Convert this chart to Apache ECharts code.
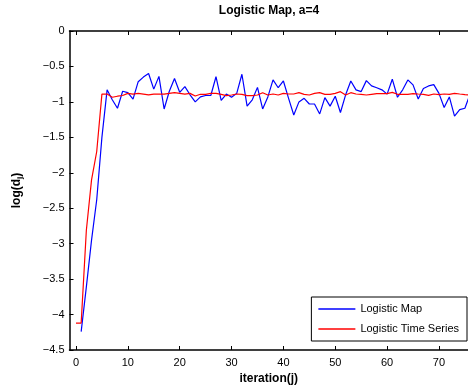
<!DOCTYPE html>
<html>
<head>
<meta charset="utf-8">
<script src="https://cdn.jsdelivr.net/npm/echarts@6/dist/echarts.min.js"></script>
<style>
html,body{margin:0;padding:0;background:#fff;}
#chart{width:468px;height:387px;}
</style>
</head>
<body>
<div id="chart"></div>
<script>
// iteration index j
var iterations = [0,1,2,3,4,5,6,7,8,9,10,11,12,13,14,15,16,17,18,19,20,21,22,23,24,25,26,27,28,29,30,31,32,33,34,35,36,37,38,39,40,41,42,43,44,45,46,47,48,49,50,51,52,53,54,55,56,57,58,59,60,61,62,63,64,65,66,67,68,69,70,71,72,73,74,75,76];
// Logistic Map (blue); no value at j=0
var logisticMap = [null,-4.24,-3.61,-2.95,-2.38,-1.5,-0.83,-0.97,-1.09,-0.85,-0.87,-0.96,-0.715,-0.65,-0.6,-0.82,-0.64,-1.1,-0.85,-0.67,-0.865,-0.785,-0.9,-1.0,-0.93,-0.91,-0.91,-0.645,-0.98,-0.89,-0.935,-0.88,-0.61,-1.06,-0.97,-0.795,-1.1,-0.93,-0.69,-0.8,-0.705,-0.95,-1.185,-1.0,-0.95,-1.03,-1.03,-1.17,-0.94,-1.06,-0.92,-1.15,-0.9,-0.705,-0.83,-0.855,-0.7,-0.775,-0.8,-0.83,-0.89,-0.68,-0.935,-0.83,-0.69,-0.76,-0.96,-0.81,-0.775,-0.757,-0.88,-1.08,-0.93,-1.2,-1.11,-1.09,-0.89];
// Logistic Time Series (red)
var logisticTimeSeries = [-4.12,-4.12,-2.81,-2.1,-1.7,-0.89,-0.89,-0.935,-0.92,-0.91,-0.88,-0.89,-0.88,-0.89,-0.9,-0.89,-0.89,-0.89,-0.88,-0.87,-0.88,-0.89,-0.88,-0.917,-0.893,-0.893,-0.879,-0.879,-0.893,-0.912,-0.903,-0.889,-0.893,-0.912,-0.912,-0.903,-0.87,-0.903,-0.889,-0.903,-0.879,-0.889,-0.889,-0.87,-0.893,-0.903,-0.879,-0.87,-0.893,-0.893,-0.879,-0.856,-0.903,-0.87,-0.889,-0.893,-0.903,-0.893,-0.884,-0.884,-0.884,-0.865,-0.893,-0.893,-0.893,-0.884,-0.889,-0.893,-0.907,-0.889,-0.898,-0.889,-0.893,-0.879,-0.889,-0.898,-0.903];
var xTicks = [0,10,20,30,40,50,60,70];
var yTicks = [0,-0.5,-1,-1.5,-2,-2.5,-3,-3.5,-4,-4.5];

function pairs(xs, ys){
  var out = [];
  for (var i = 0; i < xs.length; i++) out.push([xs[i], ys[i]]);
  return out;
}

var FONT = 'Liberation Sans, Arial, Helvetica, sans-serif';
var chart = echarts.init(document.getElementById('chart'), null, {renderer:'canvas'});
var axisLineStyle = {color:'#000', width:1.5};

chart.setOption({
  animation:false,
  backgroundColor:'#fff',
  graphic:[{
    type:'text', x:269, y:5,
    style:{text:'Logistic Map, a=4', font:'bold 12px ' + FONT, fill:'#000', textAlign:'center', textVerticalAlign:'top'}
  }],
  grid:{left:69.5, right:0, top:31, bottom:37, containLabel:false, outerBoundsMode:'none'},
  legend:{
    right:1, top:297, orient:'vertical',
    backgroundColor:'#fff', borderColor:'#000', borderWidth:1,
    padding:[5,8,5,7], itemGap:6, itemWidth:37, itemHeight:1.5,
    icon:'rect',
    textStyle:{fontFamily:FONT, fontSize:11, color:'#000', lineHeight:14},
    data:['Logistic Map','Logistic Time Series']
  },
  xAxis:[{
    type:'value', min:-1.25, max:75.6, position:'bottom',
    name:'iteration(j)', nameLocation:'middle', nameGap:19,
    nameTextStyle:{fontFamily:FONT, fontSize:12, fontWeight:'bold', color:'#000'},
    axisLine:{show:true, onZero:false, lineStyle:axisLineStyle},
    axisTick:{show:true, inside:true, length:4, customValues:xTicks, lineStyle:{color:'#000', width:1}},
    axisLabel:{show:true, customValues:xTicks, margin:7, fontFamily:FONT, fontSize:11, color:'#000'},
    splitLine:{show:false}
  },{
    type:'value', min:-1.25, max:75.6, position:'top',
    axisLine:{show:true, onZero:false, lineStyle:axisLineStyle},
    axisTick:{show:true, inside:true, length:4, customValues:xTicks, lineStyle:{color:'#000', width:1}},
    axisLabel:{show:false},
    splitLine:{show:false}
  }],
  yAxis:{
    type:'value', min:-4.5, max:0, interval:0.5,
    name:'{a|log(d}{b|j}{a|)}', nameLocation:'middle', nameGap:46, nameRotate:90,
    nameTextStyle:{rich:{
      a:{fontFamily:FONT, fontSize:12, fontWeight:'bold', color:'#000'},
      b:{fontFamily:FONT, fontSize:8, fontWeight:'bold', color:'#000', verticalAlign:'bottom', padding:[6,0,0,0]}
    }},
    axisLine:{show:true, onZero:false, lineStyle:axisLineStyle},
    axisTick:{show:true, inside:true, length:4, lineStyle:{color:'#000', width:1}},
    axisLabel:{margin:5, fontFamily:FONT, fontSize:11, color:'#000',
      formatter:function(v){ return String(v).replace('-', '\u2212'); }},
    splitLine:{show:false}
  },
  series:[{
    name:'Logistic Map', type:'line', xAxisIndex:0,
    data:pairs(iterations, logisticMap),
    showSymbol:false, symbol:'none', clip:true,
    lineStyle:{color:'#0000ff', width:1.2}, itemStyle:{color:'#0000ff'}
  },{
    name:'Logistic Time Series', type:'line', xAxisIndex:0,
    data:pairs(iterations, logisticTimeSeries),
    showSymbol:false, symbol:'none', clip:true,
    lineStyle:{color:'#ff0000', width:1.2}, itemStyle:{color:'#ff0000'}
  }]
});
</script>
</body>
</html>
